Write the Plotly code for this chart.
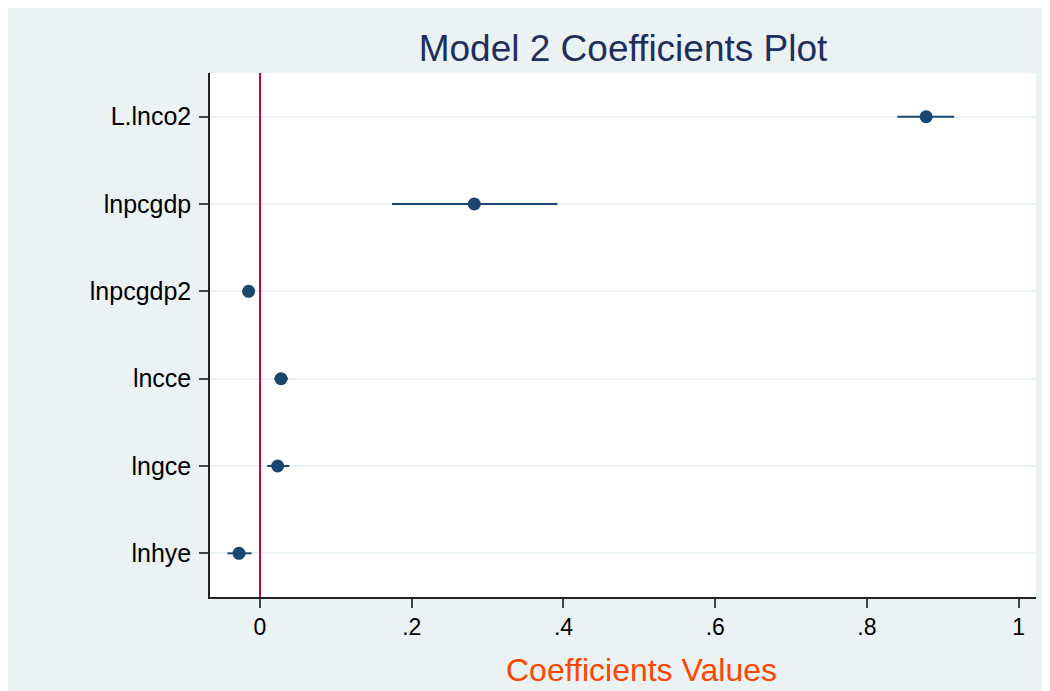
import plotly.graph_objects as go

# ---- data ----
variables = ["L.lnco2", "lnpcgdp", "lnpcgdp2", "lncce", "lngce", "lnhye"]
coef = [0.878, 0.2825, -0.015, 0.0277, 0.0233, -0.0277]
ci_low = [0.840, 0.174, -0.018, 0.019, 0.0096, -0.043]
ci_high = [0.915, 0.392, -0.012, 0.037, 0.0386, -0.011]
x_tickvals = [0, 0.2, 0.4, 0.6, 0.8, 1]
x_ticktext = ["0", ".2", ".4", ".6", ".8", "1"]
title_text = "Model 2 Coefficients Plot"
xtitle_text = "Coefficients Values"

BG = "#eaf2f3"
NAVY = "#1a476f"
FONT = "Arial, Liberation Sans, sans-serif"

err_plus = [h - c for h, c in zip(ci_high, coef)]
err_minus = [c - l for c, l in zip(coef, ci_low)]

W, H = 1042, 683
L, R, T, B = 202, 14, 65, 94
pw, ph = W - L - R, H - T - B

fig = go.Figure()
fig.add_trace(go.Scatter(
    x=coef, y=variables, mode="markers",
    marker=dict(color=NAVY, size=13, symbol="circle"),
    error_x=dict(type="data", symmetric=False, array=err_plus, arrayminus=err_minus,
                 color=NAVY, thickness=2, width=0),
    showlegend=False, cliponaxis=False,
))

# zero reference line
fig.add_shape(type="line", xref="x", yref="paper", x0=0, x1=0, y0=0, y1=1,
              line=dict(color="#c10534", width=2), layer="above")

# x-axis title as annotation (centered like the reference)
fig.add_annotation(text=xtitle_text, xref="paper", yref="paper",
                   x=(633 - L) / pw, y=-(662 - (H - B)) / ph,
                   xanchor="center", yanchor="middle", showarrow=False,
                   font=dict(family=FONT, size=32, color="#ff4500"))

fig.update_layout(
    width=W, height=H,
    margin=dict(l=L, r=R, t=T, b=B, autoexpand=False),
    paper_bgcolor=BG, plot_bgcolor="white",
    title=dict(text=title_text, x=615 / W, xanchor="center", y=1 - 40 / H, yanchor="middle",
               font=dict(family=FONT, size=37, color="#1e2f5e")),
    xaxis=dict(range=[-0.0659, 1.0228], tickvals=x_tickvals, ticktext=x_ticktext,
               showgrid=False, zeroline=False, showline=True, linecolor="#222", linewidth=1.5,
               ticks="outside", ticklen=9, tickwidth=1.5, tickcolor="#444",
               tickfont=dict(family=FONT, size=23, color="black")),
    yaxis=dict(type="category", categoryarray=variables, range=[5.5, -0.5],
               showgrid=True, gridcolor=BG, gridwidth=2, zeroline=False,
               showline=True, linecolor="#222", linewidth=1.5,
               ticks="outside", ticklen=9, tickwidth=1.5, tickcolor="#444",
               ticklabelstandoff=3,
               tickfont=dict(family=FONT, size=25, color="black")),
    font=dict(family=FONT),
)

fig.write_html("out.html")
